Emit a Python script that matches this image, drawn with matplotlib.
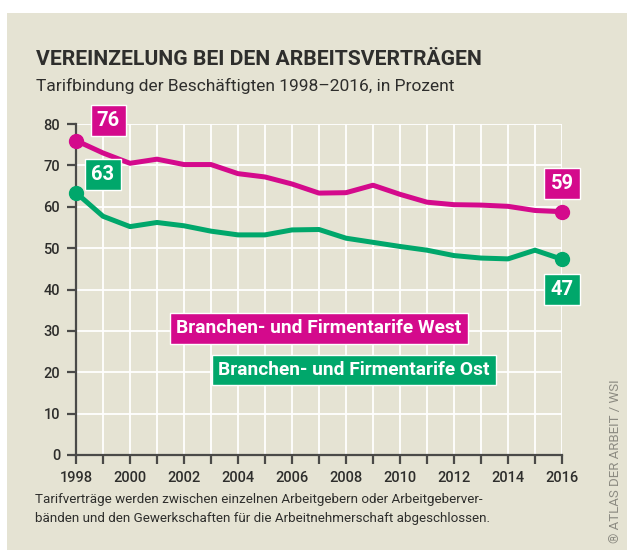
import matplotlib
matplotlib.use("Agg")
import matplotlib.pyplot as plt
from matplotlib.patches import Rectangle

plt.rcParams['font.family'] = ['Roboto', 'DejaVu Sans']

years = list(range(1998, 2017))
west = [76, 73, 70.5, 71.5, 70.2, 70.2, 68, 67.2, 65.5, 63.3, 63.4, 65.2, 63, 61.1, 60.5, 60.4, 60.1, 59.1, 58.8]
ost = [63.4, 57.7, 55.2, 56.2, 55.4, 54.1, 53.2, 53.2, 54.4, 54.5, 52.4, 51.4, 50.4, 49.5, 48.2, 47.6, 47.4, 49.5, 47.3]
west_label = "Branchen- und Firmentarife West"
ost_label = "Branchen- und Firmentarife Ost"
title = "VEREINZELUNG BEI DEN ARBEITSVERTRÄGEN"
subtitle = "Tarifbindung der Beschäftigten 1998–2016, in Prozent"
footnote_lines = ["Tarifverträge werden zwischen einzelnen Arbeitgebern oder Arbeitgeberver-",
                  "bänden und den Gewerkschaften für die Arbeitnehmerschaft abgeschlossen."]
credit = "® ATLAS DER ARBEIT / WSI"

PINK = "#D40A8C"
GREEN = "#00A76B"
BG = "#E5E3D3"
DARK = "#2E2E2C"

W, H = 627, 550
fig = plt.figure(figsize=(W / 100, H / 100), dpi=100)
fig.patch.set_facecolor("white")
fig.add_artist(Rectangle((7 / W, 0), 1 - 7 / W, 1 - 13 / H, transform=fig.transFigure,
                         facecolor=BG, edgecolor="none", zorder=0))

ax = fig.add_axes([76 / W, 1 - 455 / H, (562 - 76) / W, (455 - 124) / H])
ax.set_facecolor(BG)
ax.patch.set_alpha(0)
ax.set_xlim(1998, 2016)
ax.set_ylim(0, 80)
ax.set_xticks(years)
ax.set_xticklabels([str(y) if y % 2 == 0 else "" for y in years])
ax.set_yticks(range(0, 81, 10))
ax.grid(True, color="white", linewidth=1.3, zorder=1)
for s in ["top", "right"]:
    ax.spines[s].set_visible(False)
for s in ["left", "bottom"]:
    ax.spines[s].set_color("#4a4a48")
    ax.spines[s].set_linewidth(1.6)
    ax.spines[s].set_zorder(2)
ax.tick_params(axis="both", colors="#4a4a48", width=1.6, length=6.5, labelcolor=DARK,
               labelsize=10.5)
ax.tick_params(axis="x", pad=5)
ax.tick_params(axis="y", pad=5)
for lab in ax.get_xticklabels() + ax.get_yticklabels():
    lab.set_fontweight("medium")

ax.plot(years, west, color=PINK, lw=3.6, zorder=3, solid_joinstyle="round", clip_on=False)
ax.plot(years, ost, color=GREEN, lw=3.6, zorder=3, solid_joinstyle="round", clip_on=False)
ax.plot([years[0], years[-1]], [west[0], west[-1]], "o", color=PINK, ms=10, zorder=4, clip_on=False)
ax.plot([years[0], years[-1]], [ost[0], ost[-1]], "o", color=GREEN, ms=10, zorder=4, clip_on=False)

def tag(x, y, s, color, size=14.5, pad=0.3):
    ax.text(x, y, s, color="white", fontsize=size, fontweight="bold", ha="center", va="center",
            zorder=5, clip_on=False,
            bbox=dict(boxstyle=f"square,pad={pad}", facecolor=color, edgecolor="white", linewidth=1))

tag(1999.2, 80.9, f"{round(west[0])}", PINK)
tag(1999.0, 67.8, f"{round(ost[0])}", GREEN)
tag(2016.0, 65.6, f"{round(west[-1])}", PINK)
tag(2016.0, 40.1, f"{round(ost[-1])}", GREEN)
tag(2007.0, 30.6, west_label, PINK, size=13.8, pad=0.32)
tag(2008.3, 20.5, ost_label, GREEN, size=13.8, pad=0.32)

fig.text(36 / W, 1 - 65 / H, title, fontsize=15.2, fontweight="bold", color=DARK, va="baseline")
fig.text(36 / W, 1 - 91 / H, subtitle, fontsize=12.5, color=DARK, va="baseline")
for i, line in enumerate(footnote_lines):
    fig.text(35 / W, 1 - (503 + 19 * i) / H, line, fontsize=9.6, color=DARK, va="baseline")
fig.text(615 / W, 1 - 543 / H, credit, fontsize=9.5, color="#8C8B82", rotation=90,
         ha="center", va="bottom")

fig.savefig("out.png", dpi=100, facecolor=fig.get_facecolor())
